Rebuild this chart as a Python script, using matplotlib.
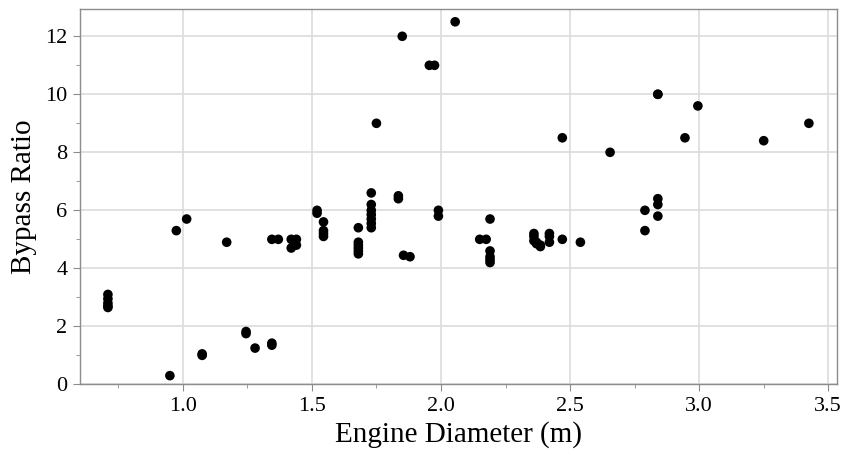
import matplotlib
matplotlib.use("Agg")
import matplotlib.pyplot as plt
from matplotlib.ticker import MultipleLocator, FormatStrFormatter

engine_diameter = [
    0.71, 0.71, 0.71, 0.71, 0.71,
    0.95, 0.975, 1.015, 1.075, 1.075, 1.17,
    1.245, 1.245, 1.28, 1.345, 1.345,
    1.345, 1.37, 1.42, 1.42, 1.44, 1.44, 1.43,
    1.52, 1.52, 1.545, 1.545, 1.545, 1.545,
    1.68, 1.68, 1.68, 1.68, 1.68, 1.68,
    1.73, 1.73, 1.73, 1.73, 1.73, 1.73, 1.73,
    1.75, 1.835, 1.835, 1.85, 1.855, 1.88,
    1.955, 1.975, 1.99, 1.99, 2.055,
    2.15, 2.175, 2.19, 2.19, 2.19, 2.19, 2.19,
    2.36, 2.36, 2.36, 2.37, 2.37, 2.385, 2.385,
    2.42, 2.42, 2.42, 2.47, 2.47, 2.54, 2.655,
    2.79, 2.79, 2.84, 2.84, 2.84, 2.84, 2.84,
    2.945, 2.995, 3.25, 3.425,
]
bypass_ratio = [
    3.1, 2.95, 2.8, 2.7, 2.65,
    0.3, 5.3, 5.7, 1.0, 1.05, 4.9,
    1.75, 1.82, 1.25, 1.35, 1.42,
    5.0, 5.0, 5.0, 4.7, 5.0, 4.8, 4.9,
    6.0, 5.9, 5.6, 5.3, 5.2, 5.1,
    5.4, 4.9, 4.8, 4.7, 4.6, 4.5,
    6.6, 6.2, 6.0, 5.85, 5.7, 5.55, 5.4,
    9.0, 6.5, 6.4, 12.0, 4.45, 4.4,
    11.0, 11.0, 6.0, 5.8, 12.5,
    5.0, 5.0, 5.7, 4.6, 4.4, 4.3, 4.2,
    5.2, 5.1, 4.95, 4.9, 4.85, 4.8, 4.75,
    5.2, 5.1, 4.9, 5.0, 8.5, 4.9, 8.0,
    6.0, 5.3, 10.0, 10.0, 6.4, 6.2, 5.8,
    8.5, 9.6, 8.4, 9.0,
]

x_label = "Engine Diameter (m)"
y_label = "Bypass Ratio"

plt.rcParams['font.family'] = ['Liberation Serif', 'DejaVu Serif']

fig = plt.figure(figsize=(8.46, 4.57), dpi=100)
ax = fig.add_axes([0.0946, 0.159, 0.8951, 0.8206])

ax.scatter(engine_diameter, bypass_ratio, s=48, color='black', edgecolors='none', zorder=3)

ax.set_xlim(0.602, 3.535)
ax.set_ylim(0, 12.93)
ax.xaxis.set_major_locator(MultipleLocator(0.5))
ax.xaxis.set_minor_locator(MultipleLocator(0.25))
ax.xaxis.set_major_formatter(FormatStrFormatter('%.1f'))
ax.yaxis.set_major_locator(MultipleLocator(2))
ax.yaxis.set_minor_locator(MultipleLocator(1))

ax.grid(True, which='major', color='#dcdcdc', linewidth=1.2, zorder=0)
ax.set_axisbelow(True)

for sp in ax.spines.values():
    sp.set_color('#8c8c8c')
    sp.set_linewidth(1.0)

ax.tick_params(which='major', direction='out', length=5, color='#8c8c8c', labelsize=16, pad=4)
ax.tick_params(which='minor', direction='out', length=3, color='#8c8c8c')

ax.set_xlabel(x_label, fontsize=21, labelpad=4)
ax.set_ylabel(y_label, fontsize=21, labelpad=6)

fig.savefig("out.png", dpi=100)
